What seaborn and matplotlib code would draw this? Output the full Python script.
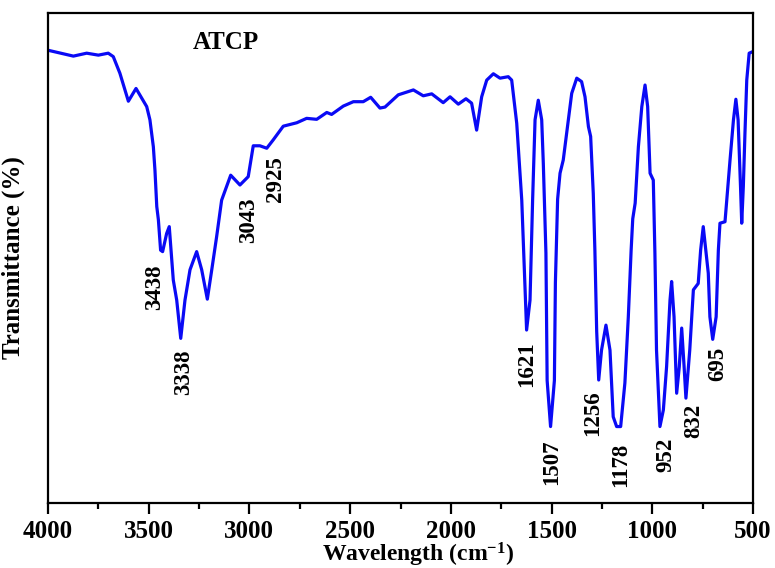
import numpy as np
import pandas as pd
import matplotlib
matplotlib.use("Agg")
import matplotlib.pyplot as plt
import seaborn as sns
from matplotlib.ticker import MultipleLocator

# ---- data ----
wavenumber = [
    4000, 3874, 3808, 3750, 3701, 3676, 3643, 3601, 3563, 3510, 3494, 3477, 3469, 3460,
    3452, 3441, 3431, 3411, 3398, 3378, 3361, 3341, 3320, 3295, 3262, 3237, 3209, 3187,
    3163, 3138, 3093, 3047, 3006, 2981, 2948, 2914, 2882, 2832, 2765, 2716, 2666, 2616,
    2592, 2534, 2484, 2435, 2398, 2352, 2327, 2261, 2186, 2137, 2095, 2038, 2004, 1963,
    1925, 1897, 1872, 1847, 1822, 1789, 1756, 1715, 1698, 1673, 1648, 1632, 1624, 1607,
    1594, 1582, 1566, 1549, 1541, 1528, 1522, 1505, 1486, 1481, 1470, 1458, 1442, 1417,
    1400, 1375, 1351, 1334, 1317, 1306, 1293, 1285, 1276, 1266, 1252, 1230, 1210, 1194,
    1177, 1157, 1136, 1119, 1105, 1097, 1085, 1069, 1052, 1036, 1023, 1011, 995, 987,
    979, 962, 945, 929, 912, 904, 892, 879, 866, 854, 842, 833, 814, 796, 772, 760,
    747, 722, 714, 700, 683, 672, 664, 639, 614, 597, 585, 574, 562, 556, 548, 540,
    531, 519, 502, 500,
]
transmittance = [
    92.4, 91.2, 91.8, 91.4, 91.8, 91.1, 87.7, 82.0, 84.6, 80.9, 78.2, 72.7, 67.9, 60.5,
    57.8, 51.6, 51.3, 55.0, 56.4, 45.5, 41.4, 33.6, 41.4, 47.6, 51.3, 47.6, 41.6, 47.6,
    54.3, 61.8, 66.9, 64.9, 66.6, 72.9, 72.9, 72.4, 74.1, 76.9, 77.6, 78.5, 78.3, 79.7,
    79.3, 81.0, 81.9, 81.9, 82.8, 80.6, 80.8, 83.3, 84.3, 83.1, 83.5, 81.7, 82.9, 81.4,
    82.5, 81.6, 76.1, 82.9, 86.3, 87.6, 86.7, 87.0, 86.3, 77.5, 61.8, 44.1, 35.3, 41.4,
    62.0, 78.2, 82.2, 78.2, 69.3, 51.0, 25.0, 15.6, 25.0, 45.0, 62.0, 67.3, 70.0, 78.2,
    83.6, 86.7, 86.0, 82.9, 76.8, 74.8, 63.2, 51.6, 35.0, 25.1, 31.2, 36.3, 31.2, 17.6,
    15.6, 15.6, 24.5, 38.0, 51.6, 58.0, 61.2, 72.7, 80.9, 85.3, 80.9, 67.3, 65.9, 51.0,
    31.2, 15.6, 19.0, 27.8, 41.4, 45.2, 38.0, 22.4, 27.8, 35.7, 27.8, 21.4, 31.2, 43.5,
    44.8, 51.6, 56.4, 46.9, 38.0, 33.4, 38.0, 51.6, 57.1, 57.4, 70.0, 78.2, 82.4, 78.2,
    64.6, 57.1, 64.6, 75.4, 86.3, 91.8, 92.1, 92.1,
]

peak_labels = ["3438", "3338", "3043", "2925", "1621", "1507", "1256", "1178", "952", "832", "695"]
label_x = [3469, 3328, 3006, 2873, 1624, 1499, 1296, 1157, 933, 793, 677]
label_y = [44.1, 26.7, 57.8, 66.1, 28.4, 8.4, 18.4, 7.8, 9.8, 16.7, 28.4]

sample_name = "ATCP"
x_ticks = [4000, 3500, 3000, 2500, 2000, 1500, 1000, 500]

df = pd.DataFrame({"wavenumber": wavenumber, "transmittance": transmittance})

# ---- style ----
sns.set_style("ticks")
plt.rcParams["font.family"] = ["Liberation Serif", "DejaVu Serif"]
plt.rcParams["font.weight"] = "bold"
plt.rcParams["text.color"] = "black"
plt.rcParams["axes.labelcolor"] = "black"
plt.rcParams["xtick.color"] = "black"
plt.rcParams["ytick.color"] = "black"
plt.rcParams["mathtext.fontset"] = "custom"
plt.rcParams["mathtext.rm"] = "Liberation Serif:bold"
plt.rcParams["mathtext.bf"] = "Liberation Serif:bold"
plt.rcParams["mathtext.it"] = "Liberation Serif:bold:italic"

fig = plt.figure(figsize=(7.75, 5.68), dpi=100)
ax = fig.add_axes([48 / 775, 65 / 568, 705 / 775, 490 / 568])

sns.lineplot(data=df, x="wavenumber", y="transmittance", ax=ax,
             color="#0a0af5", linewidth=2.3, sort=False, estimator=None)

ax.set_xlim(4000, 500)
ax.set_ylim(0, 100)
ax.set_xticks(x_ticks)
ax.set_xticklabels([str(t) for t in x_ticks], fontsize=18, fontweight="bold", color="black")
ax.xaxis.set_minor_locator(MultipleLocator(250))
ax.set_yticks([])

for s in ax.spines.values():
    s.set_linewidth(1.6)
    s.set_color("black")
    s.set_visible(True)

ax.tick_params(axis="x", which="major", direction="out", length=8, width=1.6, pad=4, colors="black")
ax.tick_params(axis="x", which="minor", direction="out", length=4, width=1.6, colors="black")

ax.set_xlabel(r"Wavelength (cm$^{\mathbf{-1}}$)", fontsize=17, fontweight="bold",
              labelpad=0, color="black")
ax.xaxis.set_label_coords(0.525, -0.077)
ax.set_ylabel("Transmittance (%)", fontsize=18, fontweight="bold", color="black")
ax.yaxis.set_label_coords(-0.032, 0.5)

ax.text(0.253, 0.939, sample_name, transform=ax.transAxes, fontsize=18,
        fontweight="bold", ha="center", va="center", color="black")

for lab, lx, ly in zip(peak_labels, label_x, label_y):
    ax.text(lx, ly, lab, rotation=90, fontsize=16.5, fontweight="bold",
            ha="center", va="center", color="black")

fig.savefig("out.png", dpi=100)
